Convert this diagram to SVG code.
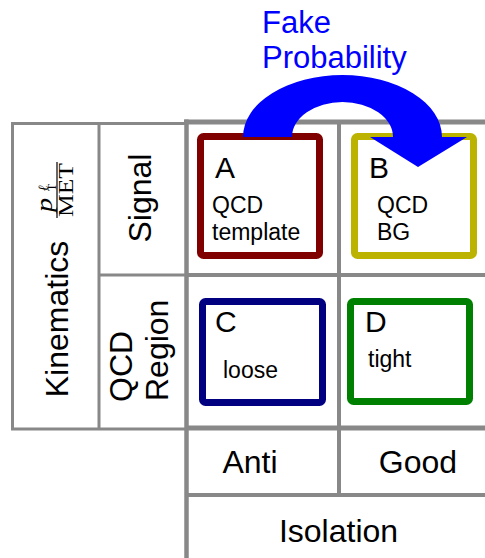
<svg xmlns="http://www.w3.org/2000/svg" width="485" height="558" viewBox="0 0 485 558">
<style>
.g{stroke:#888;fill:none}
.t{font-family:"Liberation Sans",Arial,sans-serif;fill:#000}
.big{font-size:32px}
.lbl{font-size:30px}
.sm{font-size:23px}
.box{fill:#fff;stroke-width:7}
.m{font-family:"Liberation Serif","Times New Roman",serif;fill:#000}
</style>
<rect width="485" height="558" fill="#fff"/>
<g id="grid">
<rect class="g" x="12.5" y="123.5" width="174" height="305.5" stroke-width="3"/>
<line class="g" x1="99" y1="123.5" x2="99" y2="429" stroke-width="3"/>
<line class="g" x1="99" y1="275" x2="186" y2="275" stroke-width="3"/>
<line class="g" x1="186.5" y1="119.5" x2="186.5" y2="558" stroke-width="4.5"/>
<line class="g" x1="184" y1="122" x2="485" y2="122" stroke-width="5"/>
<line class="g" x1="339" y1="122" x2="339" y2="495" stroke-width="4"/>
<line class="g" x1="186" y1="275" x2="485" y2="275" stroke-width="4"/>
<line class="g" x1="186" y1="428" x2="485" y2="428" stroke-width="5"/>
<line class="g" x1="186" y1="495" x2="485" y2="495" stroke-width="4"/>
</g>
<g id="kinematics">
<text class="t big" transform="translate(68,319) rotate(-90)" text-anchor="middle">Kinematics</text>
<g transform="translate(57,190) rotate(-90)">
<line x1="-28" y1="0" x2="28" y2="0" stroke="#000" stroke-width="1.2"/>
<text class="m" x="-27" y="16" font-size="22" textLength="54" lengthAdjust="spacingAndGlyphs">MET</text>
<text class="m" x="-22" y="-5" font-size="24" font-style="italic" textLength="14" lengthAdjust="spacingAndGlyphs">p</text>
<text class="m" x="-1" y="-9" font-size="14" font-style="italic">ℓ</text>
<text class="m" x="-1" y="-1.5" font-size="12">T</text>
</g>
</g>
<g id="signal-row"><text class="t big" transform="translate(151,198) rotate(-90)" text-anchor="middle">Signal</text></g>
<g id="qcd-row">
<text class="t big" transform="translate(132,402) rotate(-90)">QCD</text>
<text class="t big" transform="translate(168,401) rotate(-90)">Region</text>
</g>
<g id="anti"><text class="t big" x="250" y="473" text-anchor="middle">Anti</text></g>
<g id="good"><text class="t big" x="418" y="473" text-anchor="middle">Good</text></g>
<g id="isolation"><text class="t big" x="338.5" y="542" text-anchor="middle">Isolation</text></g>
<g id="A">
<rect class="box" x="200.5" y="136.5" width="119" height="119" rx="3" stroke="#800000"/>
<text class="t lbl" x="215" y="178">A</text>
<text class="t sm" x="212" y="213">QCD</text>
<text class="t sm" x="212" y="240">template</text>
</g>
<g id="B">
<rect class="box" x="354.5" y="136.5" width="119" height="119" rx="3" stroke="#bbb300"/>
<text class="t lbl" x="369" y="178">B</text>
<text class="t sm" x="377" y="213">QCD</text>
<text class="t sm" x="377" y="240">BG</text>
</g>
<g id="C">
<rect class="box" x="202.5" y="301.5" width="120" height="101" rx="3" stroke="#000080"/>
<text class="t lbl" x="215" y="332">C</text>
<text class="t sm" x="223" y="378">loose</text>
</g>
<g id="D">
<rect class="box" x="350.5" y="301.5" width="119" height="100" rx="3" stroke="#008000"/>
<text class="t lbl" x="365" y="332">D</text>
<text class="t sm" x="368" y="367">tight</text>
</g>
<g id="connectors">
<path d="M243,137 A99.5,62 0 0 1 442,137 L467,137 L418,167 L370,137 L393,137 A50.5,35 0 0 0 292,137 Z" fill="#0000ff"/>
</g>
<g id="fake-probability">
<text class="t" x="262" y="33" font-size="31" style="fill:#0000ff">Fake</text>
<text class="t" x="262" y="68" font-size="31" style="fill:#0000ff">Probability</text>
</g>
</svg>
